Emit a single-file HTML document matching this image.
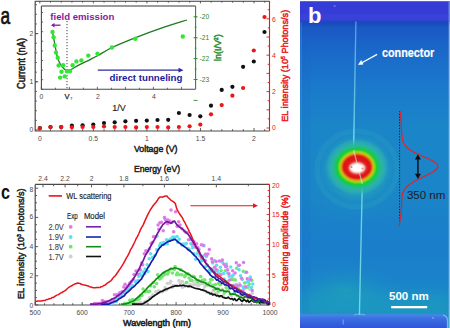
<!DOCTYPE html><html><head><meta charset="utf-8"><style>html,body{margin:0;padding:0;background:#fff;width:450px;height:328px;overflow:hidden}svg{display:block}text{font-family:"Liberation Sans",sans-serif}</style></head><body>
<svg width="450" height="328" viewBox="0 0 450 328">
<defs>
<filter id="blur1" x="-50%" y="-50%" width="200%" height="200%"><feGaussianBlur stdDeviation="1.2"/></filter>
<filter id="blur2" x="-50%" y="-50%" width="200%" height="200%"><feGaussianBlur stdDeviation="2.5"/></filter>
<filter id="blur5" x="-50%" y="-50%" width="200%" height="200%"><feGaussianBlur stdDeviation="8"/></filter>
<filter id="soft" x="-20%" y="-20%" width="140%" height="140%"><feGaussianBlur stdDeviation="0.45"/></filter>
</defs>
<rect x="0" y="0" width="450" height="328" fill="#fff"/>
<g filter="url(#soft)">
<path d="M35.2,1.2 L269.5,1.2" stroke="#3a3a3a" stroke-width="1.1" fill="none"/>
<path d="M39.80,1.2 v2.2" stroke="#3a3a3a" stroke-width="0.8"/>
<path d="M50.51,1.2 v1.5" stroke="#3a3a3a" stroke-width="0.8"/>
<path d="M61.22,1.2 v1.5" stroke="#3a3a3a" stroke-width="0.8"/>
<path d="M71.93,1.2 v1.5" stroke="#3a3a3a" stroke-width="0.8"/>
<path d="M82.64,1.2 v1.5" stroke="#3a3a3a" stroke-width="0.8"/>
<path d="M93.35,1.2 v2.2" stroke="#3a3a3a" stroke-width="0.8"/>
<path d="M104.06,1.2 v1.5" stroke="#3a3a3a" stroke-width="0.8"/>
<path d="M114.77,1.2 v1.5" stroke="#3a3a3a" stroke-width="0.8"/>
<path d="M125.48,1.2 v1.5" stroke="#3a3a3a" stroke-width="0.8"/>
<path d="M136.19,1.2 v1.5" stroke="#3a3a3a" stroke-width="0.8"/>
<path d="M146.90,1.2 v2.2" stroke="#3a3a3a" stroke-width="0.8"/>
<path d="M157.61,1.2 v1.5" stroke="#3a3a3a" stroke-width="0.8"/>
<path d="M168.32,1.2 v1.5" stroke="#3a3a3a" stroke-width="0.8"/>
<path d="M179.03,1.2 v1.5" stroke="#3a3a3a" stroke-width="0.8"/>
<path d="M189.74,1.2 v1.5" stroke="#3a3a3a" stroke-width="0.8"/>
<path d="M200.45,1.2 v2.2" stroke="#3a3a3a" stroke-width="0.8"/>
<path d="M211.16,1.2 v1.5" stroke="#3a3a3a" stroke-width="0.8"/>
<path d="M221.87,1.2 v1.5" stroke="#3a3a3a" stroke-width="0.8"/>
<path d="M232.58,1.2 v1.5" stroke="#3a3a3a" stroke-width="0.8"/>
<path d="M243.29,1.2 v1.5" stroke="#3a3a3a" stroke-width="0.8"/>
<path d="M254.00,1.2 v2.2" stroke="#3a3a3a" stroke-width="0.8"/>
<path d="M264.71,1.2 v1.5" stroke="#3a3a3a" stroke-width="0.8"/>
<path d="M35.2,1 L35.2,131 L269.5,131" stroke="#4a4a4a" stroke-width="1.2" fill="none"/>
<path d="M269.5,1 L269.5,131" stroke="#e8141b" stroke-width="1.1" fill="none"/>
<path d="M35.2,130.00 h3" stroke="#4a4a4a" stroke-width="1"/>
<path d="M35.2,81.80 h3" stroke="#4a4a4a" stroke-width="1"/>
<path d="M35.2,33.60 h3" stroke="#4a4a4a" stroke-width="1"/>
<path d="M35.2,120.36 h1.8" stroke="#4a4a4a" stroke-width="0.8"/>
<path d="M35.2,110.72 h1.8" stroke="#4a4a4a" stroke-width="0.8"/>
<path d="M35.2,101.08 h1.8" stroke="#4a4a4a" stroke-width="0.8"/>
<path d="M35.2,91.44 h1.8" stroke="#4a4a4a" stroke-width="0.8"/>
<path d="M35.2,81.80 h1.8" stroke="#4a4a4a" stroke-width="0.8"/>
<path d="M35.2,72.16 h1.8" stroke="#4a4a4a" stroke-width="0.8"/>
<path d="M35.2,62.52 h1.8" stroke="#4a4a4a" stroke-width="0.8"/>
<path d="M35.2,52.88 h1.8" stroke="#4a4a4a" stroke-width="0.8"/>
<path d="M35.2,43.24 h1.8" stroke="#4a4a4a" stroke-width="0.8"/>
<path d="M35.2,33.60 h1.8" stroke="#4a4a4a" stroke-width="0.8"/>
<path d="M35.2,23.96 h1.8" stroke="#4a4a4a" stroke-width="0.8"/>
<path d="M35.2,14.32 h1.8" stroke="#4a4a4a" stroke-width="0.8"/>
<path d="M35.2,4.68 h1.8" stroke="#4a4a4a" stroke-width="0.8"/>
<path d="M39.80,131 v-3.0" stroke="#4a4a4a" stroke-width="0.9"/>
<path d="M50.51,131 v-1.8" stroke="#4a4a4a" stroke-width="0.9"/>
<path d="M61.22,131 v-1.8" stroke="#4a4a4a" stroke-width="0.9"/>
<path d="M71.93,131 v-1.8" stroke="#4a4a4a" stroke-width="0.9"/>
<path d="M82.64,131 v-1.8" stroke="#4a4a4a" stroke-width="0.9"/>
<path d="M93.35,131 v-3.0" stroke="#4a4a4a" stroke-width="0.9"/>
<path d="M104.06,131 v-1.8" stroke="#4a4a4a" stroke-width="0.9"/>
<path d="M114.77,131 v-1.8" stroke="#4a4a4a" stroke-width="0.9"/>
<path d="M125.48,131 v-1.8" stroke="#4a4a4a" stroke-width="0.9"/>
<path d="M136.19,131 v-1.8" stroke="#4a4a4a" stroke-width="0.9"/>
<path d="M146.90,131 v-3.0" stroke="#4a4a4a" stroke-width="0.9"/>
<path d="M157.61,131 v-1.8" stroke="#4a4a4a" stroke-width="0.9"/>
<path d="M168.32,131 v-1.8" stroke="#4a4a4a" stroke-width="0.9"/>
<path d="M179.03,131 v-1.8" stroke="#4a4a4a" stroke-width="0.9"/>
<path d="M189.74,131 v-1.8" stroke="#4a4a4a" stroke-width="0.9"/>
<path d="M200.45,131 v-3.0" stroke="#4a4a4a" stroke-width="0.9"/>
<path d="M211.16,131 v-1.8" stroke="#4a4a4a" stroke-width="0.9"/>
<path d="M221.87,131 v-1.8" stroke="#4a4a4a" stroke-width="0.9"/>
<path d="M232.58,131 v-1.8" stroke="#4a4a4a" stroke-width="0.9"/>
<path d="M243.29,131 v-1.8" stroke="#4a4a4a" stroke-width="0.9"/>
<path d="M254.00,131 v-3.0" stroke="#4a4a4a" stroke-width="0.9"/>
<path d="M264.71,131 v-1.8" stroke="#4a4a4a" stroke-width="0.9"/>
<path d="M269.5,128.00 h-3.0" stroke="#e8141b" stroke-width="0.9"/>
<path d="M269.5,118.90 h-1.8" stroke="#e8141b" stroke-width="0.9"/>
<path d="M269.5,109.80 h-3.0" stroke="#e8141b" stroke-width="0.9"/>
<path d="M269.5,100.70 h-1.8" stroke="#e8141b" stroke-width="0.9"/>
<path d="M269.5,91.60 h-3.0" stroke="#e8141b" stroke-width="0.9"/>
<path d="M269.5,82.50 h-1.8" stroke="#e8141b" stroke-width="0.9"/>
<path d="M269.5,73.40 h-3.0" stroke="#e8141b" stroke-width="0.9"/>
<path d="M269.5,64.30 h-1.8" stroke="#e8141b" stroke-width="0.9"/>
<path d="M269.5,55.20 h-3.0" stroke="#e8141b" stroke-width="0.9"/>
<path d="M269.5,46.10 h-1.8" stroke="#e8141b" stroke-width="0.9"/>
<path d="M269.5,37.00 h-3.0" stroke="#e8141b" stroke-width="0.9"/>
<path d="M269.5,27.90 h-1.8" stroke="#e8141b" stroke-width="0.9"/>
<path d="M269.5,18.80 h-3.0" stroke="#e8141b" stroke-width="0.9"/>
<path d="M269.5,9.70 h-1.8" stroke="#e8141b" stroke-width="0.9"/>
</g>
<text x="33.20" y="132.05" font-size="6.80" fill="#4a4a4a" text-anchor="end" font-weight="normal" >0</text>
<text x="33.20" y="83.95" font-size="6.80" fill="#4a4a4a" text-anchor="end" font-weight="normal" >1</text>
<text x="33.20" y="36.25" font-size="6.80" fill="#4a4a4a" text-anchor="end" font-weight="normal" >2</text>
<text x="39.80" y="141.00" font-size="6.80" fill="#4a4a4a" text-anchor="middle" font-weight="normal" >0</text>
<text x="93.35" y="141.00" font-size="6.80" fill="#4a4a4a" text-anchor="middle" font-weight="normal" >0.5</text>
<text x="146.90" y="141.00" font-size="6.80" fill="#4a4a4a" text-anchor="middle" font-weight="normal" >1</text>
<text x="200.45" y="141.00" font-size="6.80" fill="#4a4a4a" text-anchor="middle" font-weight="normal" >1.5</text>
<text x="254.00" y="141.00" font-size="6.80" fill="#4a4a4a" text-anchor="middle" font-weight="normal" >2</text>
<text x="155.70" y="151.80" font-size="9.80" fill="#222" text-anchor="middle" font-weight="normal" textLength="43.5" lengthAdjust="spacingAndGlyphs" stroke="#222" stroke-width="0.55" >Voltage (V)</text>
<text x="0" y="0" transform="translate(21.30,63.50) rotate(-90)" font-size="10.20" fill="#222" text-anchor="middle" font-weight="normal" dy="0.35em" textLength="51.0" lengthAdjust="spacingAndGlyphs" stroke="#222" stroke-width="0.55">Current (nA)</text>
<text x="271.90" y="130.35" font-size="6.80" fill="#e8141b" text-anchor="start" font-weight="normal" >0</text>
<text x="271.90" y="94.15" font-size="6.80" fill="#e8141b" text-anchor="start" font-weight="normal" >2</text>
<text x="271.90" y="57.85" font-size="6.80" fill="#e8141b" text-anchor="start" font-weight="normal" >4</text>
<text x="271.90" y="21.65" font-size="6.80" fill="#e8141b" text-anchor="start" font-weight="normal" >6</text>
<text x="0" y="0" transform="translate(284.20,65.80) rotate(-90)" font-size="9.80" fill="#e8141b" text-anchor="middle" font-weight="normal" dy="0.35em" textLength="112.0" lengthAdjust="spacingAndGlyphs" stroke="#e8141b" stroke-width="0.45">EL intensity (10<tspan dy="-3" font-size="5.5">5</tspan><tspan dy="3"> Photons/s)</tspan></text>
<text x="0.60" y="23.80" font-size="23.50" fill="#111" text-anchor="start" font-weight="normal" textLength="9.6" lengthAdjust="spacingAndGlyphs" stroke="#111" stroke-width="0.70" >a</text>
<circle cx="39.80" cy="128.00" r="2.1" fill="#111"/>
<circle cx="50.50" cy="127.00" r="2.1" fill="#111"/>
<circle cx="61.20" cy="127.00" r="2.1" fill="#111"/>
<circle cx="71.90" cy="125.70" r="2.1" fill="#111"/>
<circle cx="82.60" cy="125.30" r="2.1" fill="#111"/>
<circle cx="93.30" cy="124.50" r="2.1" fill="#111"/>
<circle cx="104.00" cy="123.00" r="2.1" fill="#111"/>
<circle cx="114.70" cy="122.30" r="2.1" fill="#111"/>
<circle cx="125.40" cy="121.30" r="2.1" fill="#111"/>
<circle cx="136.10" cy="120.80" r="2.1" fill="#111"/>
<circle cx="146.80" cy="120.60" r="2.1" fill="#111"/>
<circle cx="157.50" cy="120.00" r="2.1" fill="#111"/>
<circle cx="168.20" cy="119.80" r="2.1" fill="#111"/>
<circle cx="178.90" cy="113.00" r="2.1" fill="#111"/>
<circle cx="189.60" cy="115.00" r="2.1" fill="#111"/>
<circle cx="200.30" cy="116.30" r="2.1" fill="#111"/>
<circle cx="211.00" cy="105.70" r="2.1" fill="#111"/>
<circle cx="221.70" cy="89.90" r="2.1" fill="#111"/>
<circle cx="232.40" cy="86.80" r="2.1" fill="#111"/>
<circle cx="243.10" cy="66.80" r="2.1" fill="#111"/>
<circle cx="253.80" cy="61.50" r="2.1" fill="#111"/>
<circle cx="264.50" cy="32.00" r="2.1" fill="#111"/>
<circle cx="39.80" cy="128.40" r="2.1" fill="#ee1515"/>
<circle cx="50.50" cy="127.00" r="2.1" fill="#ee1515"/>
<circle cx="61.20" cy="127.00" r="2.1" fill="#ee1515"/>
<circle cx="71.90" cy="127.30" r="2.1" fill="#ee1515"/>
<circle cx="82.60" cy="127.00" r="2.1" fill="#ee1515"/>
<circle cx="93.30" cy="127.00" r="2.1" fill="#ee1515"/>
<circle cx="104.00" cy="126.50" r="2.1" fill="#ee1515"/>
<circle cx="114.70" cy="127.00" r="2.1" fill="#ee1515"/>
<circle cx="125.40" cy="127.00" r="2.1" fill="#ee1515"/>
<circle cx="136.10" cy="127.40" r="2.1" fill="#ee1515"/>
<circle cx="146.80" cy="127.00" r="2.1" fill="#ee1515"/>
<circle cx="157.50" cy="127.00" r="2.1" fill="#ee1515"/>
<circle cx="168.20" cy="127.40" r="2.1" fill="#ee1515"/>
<circle cx="178.90" cy="127.00" r="2.1" fill="#ee1515"/>
<circle cx="189.60" cy="126.30" r="2.1" fill="#ee1515"/>
<circle cx="200.30" cy="124.60" r="2.1" fill="#ee1515"/>
<circle cx="211.00" cy="114.30" r="2.1" fill="#ee1515"/>
<circle cx="221.70" cy="105.10" r="2.1" fill="#ee1515"/>
<circle cx="232.40" cy="95.70" r="2.1" fill="#ee1515"/>
<circle cx="243.10" cy="88.00" r="2.1" fill="#ee1515"/>
<circle cx="253.80" cy="50.50" r="2.1" fill="#ee1515"/>
<circle cx="264.50" cy="17.00" r="2.1" fill="#ee1515"/>
<rect x="41.4" y="6" width="154.2" height="83.3" fill="#fff"/>
<g filter="url(#soft)">
<path d="M41.4,6 L195.6,6" stroke="#3a3a3a" stroke-width="1.1" fill="none"/>
<path d="M41.4,6 L41.4,89.3 L195.6,89.3" stroke="#4a4a4a" stroke-width="1.1" fill="none"/>
<path d="M195.6,6 L195.6,89.3" stroke="#2a8a2a" stroke-width="1.1" fill="none"/>
<path d="M41.40,89.3 v-2.5" stroke="#4a4a4a" stroke-width="0.8"/>
<path d="M55.40,89.3 v-1.6" stroke="#4a4a4a" stroke-width="0.8"/>
<path d="M69.40,89.3 v-2.5" stroke="#4a4a4a" stroke-width="0.8"/>
<path d="M83.40,89.3 v-1.6" stroke="#4a4a4a" stroke-width="0.8"/>
<path d="M97.40,89.3 v-2.5" stroke="#4a4a4a" stroke-width="0.8"/>
<path d="M111.40,89.3 v-1.6" stroke="#4a4a4a" stroke-width="0.8"/>
<path d="M125.40,89.3 v-2.5" stroke="#4a4a4a" stroke-width="0.8"/>
<path d="M139.40,89.3 v-1.6" stroke="#4a4a4a" stroke-width="0.8"/>
<path d="M153.40,89.3 v-2.5" stroke="#4a4a4a" stroke-width="0.8"/>
<path d="M167.40,89.3 v-1.6" stroke="#4a4a4a" stroke-width="0.8"/>
<path d="M181.40,89.3 v-2.5" stroke="#4a4a4a" stroke-width="0.8"/>
<path d="M41.4,89.30 h1.8" stroke="#4a4a4a" stroke-width="0.8"/>
<path d="M41.4,79.70 h1.8" stroke="#4a4a4a" stroke-width="0.8"/>
<path d="M41.4,70.10 h1.8" stroke="#4a4a4a" stroke-width="0.8"/>
<path d="M41.4,60.50 h1.8" stroke="#4a4a4a" stroke-width="0.8"/>
<path d="M41.4,50.90 h1.8" stroke="#4a4a4a" stroke-width="0.8"/>
<path d="M41.4,41.30 h1.8" stroke="#4a4a4a" stroke-width="0.8"/>
<path d="M41.4,31.70 h1.8" stroke="#4a4a4a" stroke-width="0.8"/>
<path d="M41.4,22.10 h1.8" stroke="#4a4a4a" stroke-width="0.8"/>
<path d="M41.4,12.50 h1.8" stroke="#4a4a4a" stroke-width="0.8"/>
<path d="M193.6,16.80 h4" stroke="#2a8a2a" stroke-width="0.9"/>
<path d="M193.6,37.70 h4" stroke="#2a8a2a" stroke-width="0.9"/>
<path d="M193.6,58.60 h4" stroke="#2a8a2a" stroke-width="0.9"/>
<path d="M193.6,79.50 h4" stroke="#2a8a2a" stroke-width="0.9"/>
<path d="M193.6,100.40 h4" stroke="#2a8a2a" stroke-width="0.9"/>
<path d="M194.6,16.80 h2" stroke="#2a8a2a" stroke-width="0.7"/>
<path d="M194.6,27.25 h2" stroke="#2a8a2a" stroke-width="0.7"/>
<path d="M194.6,37.70 h2" stroke="#2a8a2a" stroke-width="0.7"/>
<path d="M194.6,48.15 h2" stroke="#2a8a2a" stroke-width="0.7"/>
<path d="M194.6,58.60 h2" stroke="#2a8a2a" stroke-width="0.7"/>
<path d="M194.6,69.05 h2" stroke="#2a8a2a" stroke-width="0.7"/>
<path d="M194.6,79.50 h2" stroke="#2a8a2a" stroke-width="0.7"/>
<path d="M67,21 L67,89" stroke="#444" stroke-width="1" stroke-dasharray="1.2,1.8" fill="none"/>
</g>
<text x="41.40" y="99.00" font-size="6.80" fill="#4a4a4a" text-anchor="middle" font-weight="normal" >0</text>
<text x="97.80" y="99.00" font-size="6.80" fill="#4a4a4a" text-anchor="middle" font-weight="normal" >2</text>
<text x="154.00" y="99.00" font-size="6.80" fill="#4a4a4a" text-anchor="middle" font-weight="normal" >4</text>
<text x="67.00" y="98.80" font-size="7.50" fill="#222" text-anchor="middle" font-weight="normal" stroke="#222" stroke-width="0.25" >V</text>
<text x="71.60" y="100.00" font-size="4.00" fill="#222" text-anchor="middle" font-weight="normal" >T</text>
<text x="112.20" y="111.20" font-size="8.20" fill="#222" text-anchor="start" font-weight="normal" textLength="13.4" lengthAdjust="spacingAndGlyphs" stroke="#222" stroke-width="0.15" >1/V</text>
<text x="199.60" y="18.95" font-size="6.80" fill="#2a8a2a" text-anchor="start" font-weight="normal" textLength="9.6" lengthAdjust="spacingAndGlyphs" >-20</text>
<text x="199.60" y="40.35" font-size="6.80" fill="#2a8a2a" text-anchor="start" font-weight="normal" textLength="9.6" lengthAdjust="spacingAndGlyphs" >-21</text>
<text x="199.60" y="61.05" font-size="6.80" fill="#2a8a2a" text-anchor="start" font-weight="normal" textLength="9.6" lengthAdjust="spacingAndGlyphs" >-22</text>
<text x="199.60" y="82.15" font-size="6.80" fill="#2a8a2a" text-anchor="start" font-weight="normal" textLength="9.6" lengthAdjust="spacingAndGlyphs" >-23</text>
<text x="0" y="0" transform="translate(217.50,47.60) rotate(-90)" font-size="9.40" fill="#2a8a2a" text-anchor="middle" font-weight="normal" dy="0.35em" textLength="26.7" lengthAdjust="spacingAndGlyphs" stroke="#2a8a2a" stroke-width="0.50">ln(I/V<tspan dy="-3" font-size="5.5">2</tspan><tspan dy="3">)</tspan></text>
<text x="50.30" y="19.80" font-size="9.70" fill="#8a1a9a" text-anchor="start" font-weight="bold" textLength="64.0" lengthAdjust="spacingAndGlyphs" >field emission</text>
<path d="M60.5,25.2 L52.5,25.2" stroke="#8a1a9a" stroke-width="1.3" fill="none"/><path d="M51,25.2 L54.5,23 L54.5,27.4 Z" fill="#8a1a9a"/>
<path d="M97.8,70.2 L180,70.2" stroke="#2a2aaa" stroke-width="1.2" fill="none"/><path d="M183.5,70.2 L178.5,67.8 L178.5,72.6 Z" fill="#2a2aaa"/>
<text x="109.60" y="81.20" font-size="9.70" fill="#1a1aa0" text-anchor="start" font-weight="bold" textLength="72.8" lengthAdjust="spacingAndGlyphs" >direct tunneling</text>
<path d="M52.50,31.50 C52.75,32.92 53.43,36.92 54.00,40.00 C54.57,43.08 55.33,47.12 55.90,50.00 C56.47,52.88 56.65,54.92 57.40,57.30 C58.15,59.68 59.27,62.37 60.40,64.30 C61.53,66.23 63.05,67.92 64.20,68.90 C65.35,69.88 66.15,70.10 67.30,70.20 C68.45,70.30 69.20,70.33 71.10,69.50 C73.00,68.67 75.53,66.85 78.70,65.20 C81.87,63.55 86.88,61.22 90.10,59.60 C93.32,57.98 94.35,57.52 98.00,55.50 C101.65,53.48 105.83,50.45 112.00,47.50 C118.17,44.55 126.67,41.08 135.00,37.80 C143.33,34.52 153.33,30.77 162.00,27.80 C170.67,24.83 182.83,21.30 187.00,20.00" stroke="#1e7a1e" stroke-width="1.3" fill="none"/>
<circle cx="52.50" cy="32.00" r="2.2" fill="#33e633"/>
<circle cx="53.60" cy="37.20" r="2.2" fill="#33e633"/>
<circle cx="54.80" cy="45.50" r="2.2" fill="#33e633"/>
<circle cx="56.00" cy="52.60" r="2.2" fill="#33e633"/>
<circle cx="57.70" cy="57.80" r="2.2" fill="#33e633"/>
<circle cx="58.60" cy="65.50" r="2.2" fill="#33e633"/>
<circle cx="63.20" cy="65.20" r="2.2" fill="#33e633"/>
<circle cx="61.50" cy="71.80" r="2.2" fill="#33e633"/>
<circle cx="60.10" cy="77.60" r="2.2" fill="#33e633"/>
<circle cx="64.70" cy="76.40" r="2.2" fill="#33e633"/>
<circle cx="67.00" cy="71.30" r="2.2" fill="#33e633"/>
<circle cx="69.90" cy="71.30" r="2.2" fill="#33e633"/>
<circle cx="72.60" cy="65.20" r="2.2" fill="#33e633"/>
<circle cx="76.40" cy="61.40" r="2.2" fill="#33e633"/>
<circle cx="81.40" cy="60.40" r="2.2" fill="#33e633"/>
<circle cx="88.30" cy="55.60" r="2.2" fill="#33e633"/>
<circle cx="97.50" cy="53.80" r="2.2" fill="#33e633"/>
<circle cx="112.00" cy="47.50" r="2.2" fill="#33e633"/>
<circle cx="135.30" cy="38.80" r="2.2" fill="#33e633"/>
<circle cx="182.80" cy="36.50" r="2.2" fill="#33e633"/>
<defs>
<clipPath id="clipB"><rect x="300" y="1" width="149.5" height="327"/></clipPath>
<linearGradient id="bgB" x1="0" y1="0" x2="0" y2="1"><stop offset="0" stop-color="#1a3ab8"/><stop offset="0.035" stop-color="#1a48bc"/><stop offset="0.08" stop-color="#1a58c4"/><stop offset="0.16" stop-color="#1a6ac9"/><stop offset="0.28" stop-color="#1a7ccb"/><stop offset="0.4" stop-color="#1a86c8"/><stop offset="0.6" stop-color="#1a84c8"/><stop offset="0.75" stop-color="#1a7ecb"/><stop offset="0.88" stop-color="#1a84ca"/><stop offset="1" stop-color="#1c98c0"/></linearGradient>
<radialGradient id="halo" cx="0.5" cy="0.5" r="0.5"><stop offset="0" stop-color="#30c0a8" stop-opacity="1"/><stop offset="0.6" stop-color="#28b4b4" stop-opacity="0.75"/><stop offset="0.85" stop-color="#22a8bc" stop-opacity="0.35"/><stop offset="1" stop-color="#1b8ac6" stop-opacity="0"/></radialGradient>
<radialGradient id="glowBot" cx="0.5" cy="0.5" r="0.5"><stop offset="0" stop-color="#20b0b0" stop-opacity="0.9"/><stop offset="1" stop-color="#1b8ac6" stop-opacity="0"/></radialGradient>
<filter id="blurR" x="-50%" y="-50%" width="200%" height="200%"><feGaussianBlur stdDeviation="0.9"/></filter>
</defs>
<g clip-path="url(#clipB)">
<rect x="300" y="1" width="150" height="327" fill="url(#bgB)"/>
<rect x="296" y="22" width="10" height="293" fill="#1a60c8" opacity="0.3" filter="url(#blur5)"/>
<ellipse cx="345" cy="290" rx="60" ry="28" fill="url(#glowBot)" opacity="0.55"/>
<ellipse cx="357" cy="180" rx="62" ry="50" fill="url(#glowBot)" opacity="0.45"/>
<radialGradient id="halo2" cx="0.5" cy="0.5" r="0.5"><stop offset="0" stop-color="#34bcb0" stop-opacity="0.9"/><stop offset="0.55" stop-color="#30b4b4" stop-opacity="0.6"/><stop offset="0.8" stop-color="#2aa8bc" stop-opacity="0.35"/><stop offset="1" stop-color="#2090c4" stop-opacity="0"/></radialGradient>
<ellipse cx="357" cy="168" rx="40" ry="38" fill="url(#halo2)" opacity="0.8" filter="url(#blur4)"/>
<ellipse cx="357" cy="169" rx="40" ry="38" fill="none" stroke="#3cbcc0" stroke-width="5" opacity="0.15" filter="url(#blur4)"/>
<rect x="300" y="1" width="150" height="21" fill="#363cd6"/>
<rect x="300" y="14" width="150" height="7" fill="#3a48da" opacity="0.5" filter="url(#blur1)"/>
<rect x="300" y="21.5" width="150" height="3" fill="#1a40b8" opacity="0.6" filter="url(#blur1)"/>
<rect x="300" y="292" width="150" height="22" fill="#20a8bc" opacity="0.4" filter="url(#blur5)"/>
<linearGradient id="strip" x1="0" y1="0" x2="0" y2="1"><stop offset="0" stop-color="#4a86ea"/><stop offset="0.25" stop-color="#3c70e2"/><stop offset="1" stop-color="#2c4ed6"/></linearGradient>
<rect x="296" y="314.3" width="151" height="16" rx="4" fill="url(#strip)"/>
<path d="M300,315.0 L443,315.0" stroke="#7ab8f4" stroke-width="1.3" opacity="0.85" filter="url(#soft)"/>
<path d="M443,315.2 Q447.5,316 447.5,321 L447.5,328" stroke="#8ac0f4" stroke-width="1.3" fill="none" opacity="0.8" filter="url(#soft)"/>
<path d="M354,315 Q359.5,313 365,315" stroke="#7ac8f0" stroke-width="1.2" fill="none" opacity="0.7"/>
<linearGradient id="wireG" x1="0" y1="21" x2="0" y2="150" gradientUnits="userSpaceOnUse"><stop offset="0" stop-color="#58a4e2"/><stop offset="0.3" stop-color="#66bce8"/><stop offset="0.7" stop-color="#70ccea"/><stop offset="1" stop-color="#90f0f0"/></linearGradient>
<path d="M355.9,21.5 L353.6,150" stroke="url(#wireG)" stroke-width="1.35" opacity="0.9" filter="url(#soft)"/>
<path d="M362.3,184 L359.4,315" stroke="#80e0ec" stroke-width="1.35" opacity="0.85" filter="url(#soft)"/>
<g filter="url(#blurR)">
<ellipse cx="357" cy="167" rx="30" ry="27" fill="#2cb4b0" opacity="0.6"/>
<ellipse cx="357" cy="167" rx="26.5" ry="23.5" fill="#2ab8a0" opacity="0.8"/>
<ellipse cx="357" cy="167" rx="23.5" ry="20.8" fill="#20c070" opacity="0.95"/>
<ellipse cx="357" cy="167" rx="21.5" ry="19" fill="#16cc3a"/>
<ellipse cx="357" cy="167" rx="19.5" ry="17" fill="#14d424"/>
<ellipse cx="357" cy="167" rx="17.6" ry="15.2" fill="#b8e018"/>
<ellipse cx="357" cy="167" rx="16.8" ry="14.4" fill="#f0e010"/>
<ellipse cx="357" cy="167" rx="15.8" ry="13.5" fill="#e01812"/>
</g>
<path d="M353.6,150 L362.3,184" stroke="#c0f8ff" stroke-width="1.2" opacity="0.6" fill="none" filter="url(#soft)"/>
<g filter="url(#blurR)">
<ellipse cx="357.2" cy="168" rx="8.6" ry="6.0" fill="#f4a0a0"/>
<ellipse cx="357.2" cy="168" rx="7.4" ry="4.8" fill="#ffffff"/>
</g>
<circle cx="351.5" cy="167" r="1" fill="#e84040" opacity="0.7"/><circle cx="362.5" cy="168.5" r="1.1" fill="#e84040" opacity="0.6"/>
<circle cx="334.7" cy="6" r="1.1" fill="#7a80f0" opacity="0.8"/>
<rect x="342.6" y="319.5" width="1.4" height="5" fill="#7aa8f8" opacity="0.7"/>
<circle cx="433" cy="318" r="1" fill="#90c0ff" opacity="0.6"/>
<rect x="448.6" y="1" width="1.4" height="327" fill="#8ab8ee" opacity="0.75"/>
<rect x="300.5" y="22" width="1.3" height="293" fill="#4a98dc" opacity="0.45"/>
<rect x="300" y="1" width="150" height="1" fill="#6a70e8" opacity="0.7"/>
</g>
<text x="308.00" y="22.80" font-size="22.00" fill="#ffffff" text-anchor="start" font-weight="bold" >b</text>
<text x="382.00" y="56.80" font-size="13.60" fill="#ffffff" text-anchor="start" font-weight="bold" textLength="52.3" lengthAdjust="spacingAndGlyphs" stroke="#ffffff" stroke-width="0.20" >connector</text>
<path d="M377.1,54.4 L361,63.3" stroke="#fff" stroke-width="1.2" fill="none"/><path d="M358.5,64.6 L361.2,60.6 L363.0,64.2 Z" fill="#fff" stroke="#fff" stroke-width="0.6"/>
<path d="M399.6,111 L399.6,226" stroke="#111" stroke-width="0.9" stroke-dasharray="1.2,1.6" fill="none"/>
<path d="M400.10,111.00 L400.20,112.00 L400.30,113.00 L400.40,114.00 L400.50,115.00 L400.60,116.00 L400.70,117.00 L400.80,118.00 L400.90,119.00 L401.00,120.00 L401.05,121.00 L401.11,122.00 L401.16,123.00 L401.21,124.00 L401.27,125.00 L401.32,126.00 L401.38,127.00 L401.44,128.00 L401.49,129.00 L401.56,130.00 L401.62,131.00 L401.69,132.00 L401.76,133.00 L401.85,134.00 L401.95,135.00 L402.02,136.00 L402.12,137.00 L402.24,138.00 L402.41,139.00 L402.61,140.00 L402.88,141.00 L403.21,142.00 L403.63,143.00 L404.15,144.00 L404.79,145.00 L405.55,146.00 L406.47,147.00 L407.54,148.00 L408.79,149.00 L410.22,150.00 L411.80,151.00 L413.55,152.00 L415.47,153.00 L417.54,154.00 L419.72,155.00 L422.00,156.00 L424.31,157.00 L426.61,158.00 L428.85,159.00 L430.95,160.00 L432.87,161.00 L434.55,162.00 L435.93,163.00 L436.97,164.00 L437.63,165.00 L437.89,166.00 L437.78,167.00 L437.35,168.00 L436.61,169.00 L435.57,170.00 L434.28,171.00 L432.75,172.00 L431.03,173.00 L429.16,174.00 L427.17,175.00 L425.11,176.00 L423.02,177.00 L420.93,178.00 L418.89,179.00 L416.92,180.00 L415.05,181.00 L413.29,182.00 L411.65,183.00 L410.16,184.00 L408.81,185.00 L407.61,186.00 L406.54,187.00 L405.61,188.00 L404.81,189.00 L404.12,190.00 L403.58,191.00 L403.13,192.00 L402.77,193.00 L402.47,194.00 L402.24,195.00 L402.06,196.00 L401.92,197.00 L401.82,198.00 L401.74,199.00 L401.69,200.00 L401.66,201.00 L401.64,202.00 L401.63,203.00 L401.64,204.00 L401.64,205.00 L401.56,206.00 L401.48,207.00 L401.41,208.00 L401.33,209.00 L401.26,210.00 L401.18,211.00 L401.11,212.00 L401.04,213.00 L400.97,214.00 L400.90,215.00 L400.73,216.00 L400.55,217.00 L400.38,218.00 L400.21,219.00 L400.04,220.00 L399.86,221.00 L399.69,222.00 L399.52,223.00 L399.35,224.00 L399.17,225.00 L399.00,226.00" stroke="#e8202a" stroke-width="1.2" fill="none"/>
<path d="M417.9,158 L417.9,175.5" stroke="#111" stroke-width="1.5"/><path d="M417.9,154.2 L414.9,159.5 L420.9,159.5 Z" fill="#111"/><path d="M417.9,179 L414.9,173.7 L420.9,173.7 Z" fill="#111"/>
<text x="406.90" y="198.70" font-size="11.50" fill="#1a1a2a" text-anchor="start" font-weight="normal" textLength="38.4" lengthAdjust="spacingAndGlyphs" >350 nm</text>
<text x="389.00" y="300.30" font-size="11.50" fill="#ffffff" text-anchor="start" font-weight="bold" textLength="39.8" lengthAdjust="spacingAndGlyphs" >500 nm</text>
<rect x="391.2" y="306" width="36" height="2.3" fill="#fff"/>
<g filter="url(#soft)">
<path d="M35.2,184.4 L269.5,184.4" stroke="#4a4a4a" stroke-width="1.2" fill="none"/>
<path d="M35.2,184.4 L35.2,305 L269.5,305" stroke="#4a4a4a" stroke-width="1.2" fill="none"/>
<path d="M269.5,184.4 L269.5,305" stroke="#e8141b" stroke-width="1.1" fill="none"/>
<path d="M35.20,305 v-3.0" stroke="#4a4a4a" stroke-width="0.9"/>
<path d="M44.59,305 v-1.8" stroke="#4a4a4a" stroke-width="0.9"/>
<path d="M53.98,305 v-1.8" stroke="#4a4a4a" stroke-width="0.9"/>
<path d="M63.38,305 v-1.8" stroke="#4a4a4a" stroke-width="0.9"/>
<path d="M72.77,305 v-1.8" stroke="#4a4a4a" stroke-width="0.9"/>
<path d="M82.16,305 v-3.0" stroke="#4a4a4a" stroke-width="0.9"/>
<path d="M91.55,305 v-1.8" stroke="#4a4a4a" stroke-width="0.9"/>
<path d="M100.94,305 v-1.8" stroke="#4a4a4a" stroke-width="0.9"/>
<path d="M110.34,305 v-1.8" stroke="#4a4a4a" stroke-width="0.9"/>
<path d="M119.73,305 v-1.8" stroke="#4a4a4a" stroke-width="0.9"/>
<path d="M129.12,305 v-3.0" stroke="#4a4a4a" stroke-width="0.9"/>
<path d="M138.51,305 v-1.8" stroke="#4a4a4a" stroke-width="0.9"/>
<path d="M147.90,305 v-1.8" stroke="#4a4a4a" stroke-width="0.9"/>
<path d="M157.30,305 v-1.8" stroke="#4a4a4a" stroke-width="0.9"/>
<path d="M166.69,305 v-1.8" stroke="#4a4a4a" stroke-width="0.9"/>
<path d="M176.08,305 v-3.0" stroke="#4a4a4a" stroke-width="0.9"/>
<path d="M185.47,305 v-1.8" stroke="#4a4a4a" stroke-width="0.9"/>
<path d="M194.86,305 v-1.8" stroke="#4a4a4a" stroke-width="0.9"/>
<path d="M204.26,305 v-1.8" stroke="#4a4a4a" stroke-width="0.9"/>
<path d="M213.65,305 v-1.8" stroke="#4a4a4a" stroke-width="0.9"/>
<path d="M223.04,305 v-3.0" stroke="#4a4a4a" stroke-width="0.9"/>
<path d="M232.43,305 v-1.8" stroke="#4a4a4a" stroke-width="0.9"/>
<path d="M241.82,305 v-1.8" stroke="#4a4a4a" stroke-width="0.9"/>
<path d="M251.22,305 v-1.8" stroke="#4a4a4a" stroke-width="0.9"/>
<path d="M260.61,305 v-1.8" stroke="#4a4a4a" stroke-width="0.9"/>
<path d="M270.00,305 v-3.0" stroke="#4a4a4a" stroke-width="0.9"/>
<path d="M35.2,305.00 h3.0" stroke="#4a4a4a" stroke-width="0.9"/>
<path d="M35.2,297.70 h1.8" stroke="#4a4a4a" stroke-width="0.9"/>
<path d="M35.2,290.40 h1.8" stroke="#4a4a4a" stroke-width="0.9"/>
<path d="M35.2,283.10 h1.8" stroke="#4a4a4a" stroke-width="0.9"/>
<path d="M35.2,275.80 h3.0" stroke="#4a4a4a" stroke-width="0.9"/>
<path d="M35.2,268.50 h1.8" stroke="#4a4a4a" stroke-width="0.9"/>
<path d="M35.2,261.20 h1.8" stroke="#4a4a4a" stroke-width="0.9"/>
<path d="M35.2,253.90 h1.8" stroke="#4a4a4a" stroke-width="0.9"/>
<path d="M35.2,246.60 h3.0" stroke="#4a4a4a" stroke-width="0.9"/>
<path d="M35.2,239.30 h1.8" stroke="#4a4a4a" stroke-width="0.9"/>
<path d="M35.2,232.00 h1.8" stroke="#4a4a4a" stroke-width="0.9"/>
<path d="M35.2,224.70 h1.8" stroke="#4a4a4a" stroke-width="0.9"/>
<path d="M35.2,217.40 h3.0" stroke="#4a4a4a" stroke-width="0.9"/>
<path d="M35.2,210.10 h1.8" stroke="#4a4a4a" stroke-width="0.9"/>
<path d="M35.2,202.80 h1.8" stroke="#4a4a4a" stroke-width="0.9"/>
<path d="M35.2,195.50 h1.8" stroke="#4a4a4a" stroke-width="0.9"/>
<path d="M35.2,188.20 h3.0" stroke="#4a4a4a" stroke-width="0.9"/>
<path d="M43.03,184.4 v3.0" stroke="#4a4a4a" stroke-width="0.9"/>
<path d="M53.58,184.4 v1.8" stroke="#4a4a4a" stroke-width="0.9"/>
<path d="M65.08,184.4 v3.0" stroke="#4a4a4a" stroke-width="0.9"/>
<path d="M77.69,184.4 v1.8" stroke="#4a4a4a" stroke-width="0.9"/>
<path d="M91.55,184.4 v3.0" stroke="#4a4a4a" stroke-width="0.9"/>
<path d="M106.88,184.4 v1.8" stroke="#4a4a4a" stroke-width="0.9"/>
<path d="M123.90,184.4 v3.0" stroke="#4a4a4a" stroke-width="0.9"/>
<path d="M142.93,184.4 v1.8" stroke="#4a4a4a" stroke-width="0.9"/>
<path d="M164.34,184.4 v3.0" stroke="#4a4a4a" stroke-width="0.9"/>
<path d="M188.60,184.4 v1.8" stroke="#4a4a4a" stroke-width="0.9"/>
<path d="M216.33,184.4 v3.0" stroke="#4a4a4a" stroke-width="0.9"/>
<path d="M248.33,184.4 v1.8" stroke="#4a4a4a" stroke-width="0.9"/>
<path d="M269.5,305.00 h-3.0" stroke="#e8141b" stroke-width="0.9"/>
<path d="M269.5,298.97 h-1.8" stroke="#e8141b" stroke-width="0.9"/>
<path d="M269.5,292.94 h-1.8" stroke="#e8141b" stroke-width="0.9"/>
<path d="M269.5,286.91 h-1.8" stroke="#e8141b" stroke-width="0.9"/>
<path d="M269.5,280.88 h-1.8" stroke="#e8141b" stroke-width="0.9"/>
<path d="M269.5,274.85 h-3.0" stroke="#e8141b" stroke-width="0.9"/>
<path d="M269.5,268.82 h-1.8" stroke="#e8141b" stroke-width="0.9"/>
<path d="M269.5,262.79 h-1.8" stroke="#e8141b" stroke-width="0.9"/>
<path d="M269.5,256.76 h-1.8" stroke="#e8141b" stroke-width="0.9"/>
<path d="M269.5,250.73 h-1.8" stroke="#e8141b" stroke-width="0.9"/>
<path d="M269.5,244.70 h-3.0" stroke="#e8141b" stroke-width="0.9"/>
<path d="M269.5,238.67 h-1.8" stroke="#e8141b" stroke-width="0.9"/>
<path d="M269.5,232.64 h-1.8" stroke="#e8141b" stroke-width="0.9"/>
<path d="M269.5,226.61 h-1.8" stroke="#e8141b" stroke-width="0.9"/>
<path d="M269.5,220.58 h-1.8" stroke="#e8141b" stroke-width="0.9"/>
<path d="M269.5,214.55 h-3.0" stroke="#e8141b" stroke-width="0.9"/>
<path d="M269.5,208.52 h-1.8" stroke="#e8141b" stroke-width="0.9"/>
<path d="M269.5,202.49 h-1.8" stroke="#e8141b" stroke-width="0.9"/>
<path d="M269.5,196.46 h-1.8" stroke="#e8141b" stroke-width="0.9"/>
<path d="M269.5,190.43 h-1.8" stroke="#e8141b" stroke-width="0.9"/>
<path d="M269.5,184.40 h-3.0" stroke="#e8141b" stroke-width="0.9"/>
</g>
<text x="33.20" y="308.15" font-size="6.80" fill="#4a4a4a" text-anchor="end" font-weight="normal" >0</text>
<text x="33.20" y="278.05" font-size="6.80" fill="#4a4a4a" text-anchor="end" font-weight="normal" >2</text>
<text x="33.20" y="248.95" font-size="6.80" fill="#4a4a4a" text-anchor="end" font-weight="normal" >4</text>
<text x="33.20" y="219.45" font-size="6.80" fill="#4a4a4a" text-anchor="end" font-weight="normal" >6</text>
<text x="33.20" y="191.85" font-size="6.80" fill="#4a4a4a" text-anchor="end" font-weight="normal" >8</text>
<text x="35.20" y="314.80" font-size="6.80" fill="#4a4a4a" text-anchor="middle" font-weight="normal" >500</text>
<text x="82.16" y="314.80" font-size="6.80" fill="#4a4a4a" text-anchor="middle" font-weight="normal" >600</text>
<text x="129.12" y="314.80" font-size="6.80" fill="#4a4a4a" text-anchor="middle" font-weight="normal" >700</text>
<text x="176.08" y="314.80" font-size="6.80" fill="#4a4a4a" text-anchor="middle" font-weight="normal" >800</text>
<text x="223.04" y="314.80" font-size="6.80" fill="#4a4a4a" text-anchor="middle" font-weight="normal" >900</text>
<text x="270.00" y="314.80" font-size="6.80" fill="#4a4a4a" text-anchor="middle" font-weight="normal" >1000</text>
<text x="43.03" y="181.40" font-size="6.80" fill="#4a4a4a" text-anchor="middle" font-weight="normal" >2.4</text>
<text x="65.08" y="181.40" font-size="6.80" fill="#4a4a4a" text-anchor="middle" font-weight="normal" >2.2</text>
<text x="91.55" y="181.40" font-size="6.80" fill="#4a4a4a" text-anchor="middle" font-weight="normal" >2</text>
<text x="123.90" y="181.40" font-size="6.80" fill="#4a4a4a" text-anchor="middle" font-weight="normal" >1.8</text>
<text x="164.34" y="181.40" font-size="6.80" fill="#4a4a4a" text-anchor="middle" font-weight="normal" >1.6</text>
<text x="216.33" y="181.40" font-size="6.80" fill="#4a4a4a" text-anchor="middle" font-weight="normal" >1.4</text>
<text x="157.00" y="172.20" font-size="9.60" fill="#222" text-anchor="middle" font-weight="normal" textLength="46.0" lengthAdjust="spacingAndGlyphs" stroke="#222" stroke-width="0.50" >Energy (eV)</text>
<text x="157.00" y="325.60" font-size="9.80" fill="#222" text-anchor="middle" font-weight="normal" textLength="68.0" lengthAdjust="spacingAndGlyphs" stroke="#222" stroke-width="0.60" >Wavelength (nm)</text>
<text x="0" y="0" transform="translate(21.00,243.70) rotate(-90)" font-size="9.90" fill="#222" text-anchor="middle" font-weight="normal" dy="0.35em" textLength="110.6" lengthAdjust="spacingAndGlyphs" stroke="#222" stroke-width="0.50">EL intensity (10<tspan dy="-3" font-size="5.5">3</tspan><tspan dy="3"> Photons/s)</tspan></text>
<text x="271.90" y="307.45" font-size="6.80" fill="#e8141b" text-anchor="start" font-weight="normal" >0</text>
<text x="271.90" y="277.65" font-size="6.80" fill="#e8141b" text-anchor="start" font-weight="normal" >5</text>
<text x="271.90" y="247.25" font-size="6.80" fill="#e8141b" text-anchor="start" font-weight="normal" >10</text>
<text x="271.90" y="217.45" font-size="6.80" fill="#e8141b" text-anchor="start" font-weight="normal" >15</text>
<text x="271.90" y="187.75" font-size="6.80" fill="#e8141b" text-anchor="start" font-weight="normal" >20</text>
<text x="0" y="0" transform="translate(284.80,243.00) rotate(-90)" font-size="9.90" fill="#e8141b" text-anchor="middle" font-weight="normal" dy="0.35em" textLength="97.0" lengthAdjust="spacingAndGlyphs" stroke="#e8141b" stroke-width="0.50">Scattering amplitude (%)</text>
<text x="0.90" y="198.90" font-size="19.50" fill="#111" text-anchor="start" font-weight="bold" textLength="9.0" lengthAdjust="spacingAndGlyphs" >c</text>
<path d="M48.7,195.9 L62,195.9" stroke="#e8141b" stroke-width="1.6"/>
<text x="66.30" y="199.30" font-size="8.30" fill="#222" text-anchor="start" font-weight="normal" textLength="45.2" lengthAdjust="spacingAndGlyphs" stroke="#222" stroke-width="0.15" >WL scattering</text>
<text x="67.00" y="219.40" font-size="8.30" fill="#222" text-anchor="start" font-weight="normal" textLength="10.7" lengthAdjust="spacingAndGlyphs" stroke="#222" stroke-width="0.15" >Exp</text>
<text x="83.90" y="219.40" font-size="8.30" fill="#222" text-anchor="start" font-weight="normal" textLength="21.2" lengthAdjust="spacingAndGlyphs" stroke="#222" stroke-width="0.15" >Model</text>
<text x="63.80" y="229.80" font-size="8.30" fill="#444" text-anchor="end" font-weight="normal" textLength="15.4" lengthAdjust="spacingAndGlyphs" stroke="#444" stroke-width="0.10" >2.0V</text>
<circle cx="70.7" cy="226.80" r="1.9" fill="#e27ae8"/>
<path d="M86,226.80 L101,226.80" stroke="#7a1fa8" stroke-width="1.6"/>
<text x="63.80" y="240.00" font-size="8.30" fill="#444" text-anchor="end" font-weight="normal" textLength="15.4" lengthAdjust="spacingAndGlyphs" stroke="#444" stroke-width="0.10" >1.9V</text>
<circle cx="70.7" cy="237.00" r="1.9" fill="#55e4f0"/>
<path d="M86,237.00 L101,237.00" stroke="#1a24b0" stroke-width="1.6"/>
<text x="63.80" y="249.70" font-size="8.30" fill="#444" text-anchor="end" font-weight="normal" textLength="15.4" lengthAdjust="spacingAndGlyphs" stroke="#444" stroke-width="0.10" >1.8V</text>
<circle cx="70.7" cy="246.70" r="1.9" fill="#6ee66e"/>
<path d="M86,246.70 L101,246.70" stroke="#1a8a1a" stroke-width="1.6"/>
<text x="63.80" y="259.50" font-size="8.30" fill="#444" text-anchor="end" font-weight="normal" textLength="15.4" lengthAdjust="spacingAndGlyphs" stroke="#444" stroke-width="0.10" >1.7V</text>
<circle cx="70.7" cy="256.50" r="1.9" fill="#cfcfcf"/>
<path d="M86,256.50 L101,256.50" stroke="#111111" stroke-width="1.6"/>
<path d="M190.4,205.7 L254,205.7" stroke="#e8141b" stroke-width="1.1"/><path d="M258,205.7 L253,203.3 L253,208.1 Z" fill="#e8141b"/>
<circle cx="136.18" cy="303.50" r="1.75" fill="#d0d0d0"/>
<circle cx="137.02" cy="303.50" r="1.75" fill="#d0d0d0"/>
<circle cx="137.73" cy="303.50" r="1.75" fill="#d0d0d0"/>
<circle cx="139.14" cy="303.50" r="1.75" fill="#d0d0d0"/>
<circle cx="140.21" cy="302.32" r="1.75" fill="#d0d0d0"/>
<circle cx="141.96" cy="303.50" r="1.75" fill="#d0d0d0"/>
<circle cx="144.32" cy="302.04" r="1.75" fill="#d0d0d0"/>
<circle cx="145.13" cy="301.88" r="1.75" fill="#d0d0d0"/>
<circle cx="145.69" cy="301.99" r="1.75" fill="#d0d0d0"/>
<circle cx="147.33" cy="300.97" r="1.75" fill="#d0d0d0"/>
<circle cx="149.31" cy="298.53" r="1.75" fill="#d0d0d0"/>
<circle cx="149.69" cy="297.52" r="1.75" fill="#d0d0d0"/>
<circle cx="151.13" cy="296.90" r="1.75" fill="#d0d0d0"/>
<circle cx="152.84" cy="294.82" r="1.75" fill="#d0d0d0"/>
<circle cx="153.82" cy="295.74" r="1.75" fill="#d0d0d0"/>
<circle cx="155.69" cy="291.78" r="1.75" fill="#d0d0d0"/>
<circle cx="158.09" cy="292.65" r="1.75" fill="#d0d0d0"/>
<circle cx="158.45" cy="290.84" r="1.75" fill="#d0d0d0"/>
<circle cx="159.73" cy="292.12" r="1.75" fill="#d0d0d0"/>
<circle cx="162.23" cy="291.72" r="1.75" fill="#d0d0d0"/>
<circle cx="163.68" cy="290.37" r="1.75" fill="#d0d0d0"/>
<circle cx="165.10" cy="287.40" r="1.75" fill="#d0d0d0"/>
<circle cx="166.37" cy="290.07" r="1.75" fill="#d0d0d0"/>
<circle cx="167.51" cy="283.38" r="1.75" fill="#d0d0d0"/>
<circle cx="170.09" cy="282.96" r="1.75" fill="#d0d0d0"/>
<circle cx="170.78" cy="281.32" r="1.75" fill="#d0d0d0"/>
<circle cx="172.15" cy="287.57" r="1.75" fill="#d0d0d0"/>
<circle cx="173.05" cy="285.39" r="1.75" fill="#d0d0d0"/>
<circle cx="175.20" cy="285.56" r="1.75" fill="#d0d0d0"/>
<circle cx="176.68" cy="285.49" r="1.75" fill="#d0d0d0"/>
<circle cx="178.96" cy="280.44" r="1.75" fill="#d0d0d0"/>
<circle cx="180.16" cy="282.93" r="1.75" fill="#d0d0d0"/>
<circle cx="182.34" cy="281.49" r="1.75" fill="#d0d0d0"/>
<circle cx="182.46" cy="287.28" r="1.75" fill="#d0d0d0"/>
<circle cx="184.11" cy="284.48" r="1.75" fill="#d0d0d0"/>
<circle cx="184.60" cy="286.62" r="1.75" fill="#d0d0d0"/>
<circle cx="187.10" cy="282.82" r="1.75" fill="#d0d0d0"/>
<circle cx="188.24" cy="286.57" r="1.75" fill="#d0d0d0"/>
<circle cx="190.28" cy="284.68" r="1.75" fill="#d0d0d0"/>
<circle cx="192.00" cy="284.98" r="1.75" fill="#d0d0d0"/>
<circle cx="192.86" cy="281.20" r="1.75" fill="#d0d0d0"/>
<circle cx="194.58" cy="284.72" r="1.75" fill="#d0d0d0"/>
<circle cx="195.41" cy="283.67" r="1.75" fill="#d0d0d0"/>
<circle cx="196.41" cy="284.86" r="1.75" fill="#d0d0d0"/>
<circle cx="198.44" cy="285.47" r="1.75" fill="#d0d0d0"/>
<circle cx="200.34" cy="283.85" r="1.75" fill="#d0d0d0"/>
<circle cx="201.31" cy="283.25" r="1.75" fill="#d0d0d0"/>
<circle cx="203.12" cy="283.52" r="1.75" fill="#d0d0d0"/>
<circle cx="203.73" cy="289.64" r="1.75" fill="#d0d0d0"/>
<circle cx="204.70" cy="286.74" r="1.75" fill="#d0d0d0"/>
<circle cx="206.25" cy="292.06" r="1.75" fill="#d0d0d0"/>
<circle cx="207.78" cy="284.15" r="1.75" fill="#d0d0d0"/>
<circle cx="209.77" cy="285.72" r="1.75" fill="#d0d0d0"/>
<circle cx="211.66" cy="292.99" r="1.75" fill="#d0d0d0"/>
<circle cx="212.72" cy="285.17" r="1.75" fill="#d0d0d0"/>
<circle cx="213.44" cy="290.58" r="1.75" fill="#d0d0d0"/>
<circle cx="215.81" cy="293.20" r="1.75" fill="#d0d0d0"/>
<circle cx="216.84" cy="293.15" r="1.75" fill="#d0d0d0"/>
<circle cx="218.37" cy="288.20" r="1.75" fill="#d0d0d0"/>
<circle cx="220.20" cy="296.39" r="1.75" fill="#d0d0d0"/>
<circle cx="222.19" cy="289.37" r="1.75" fill="#d0d0d0"/>
<circle cx="222.97" cy="295.71" r="1.75" fill="#d0d0d0"/>
<circle cx="225.59" cy="282.31" r="1.75" fill="#d0d0d0"/>
<circle cx="226.53" cy="281.62" r="1.75" fill="#d0d0d0"/>
<circle cx="227.73" cy="290.22" r="1.75" fill="#d0d0d0"/>
<circle cx="229.51" cy="285.36" r="1.75" fill="#d0d0d0"/>
<circle cx="230.01" cy="285.47" r="1.75" fill="#d0d0d0"/>
<circle cx="231.30" cy="295.75" r="1.75" fill="#d0d0d0"/>
<circle cx="233.49" cy="285.28" r="1.75" fill="#d0d0d0"/>
<circle cx="233.82" cy="287.64" r="1.75" fill="#d0d0d0"/>
<circle cx="235.13" cy="286.34" r="1.75" fill="#d0d0d0"/>
<circle cx="237.48" cy="286.62" r="1.75" fill="#d0d0d0"/>
<circle cx="239.17" cy="283.85" r="1.75" fill="#d0d0d0"/>
<circle cx="240.49" cy="293.26" r="1.75" fill="#d0d0d0"/>
<circle cx="241.17" cy="295.22" r="1.75" fill="#d0d0d0"/>
<circle cx="242.67" cy="298.19" r="1.75" fill="#d0d0d0"/>
<circle cx="243.78" cy="295.55" r="1.75" fill="#d0d0d0"/>
<circle cx="245.99" cy="287.63" r="1.75" fill="#d0d0d0"/>
<circle cx="247.52" cy="296.17" r="1.75" fill="#d0d0d0"/>
<circle cx="248.33" cy="298.05" r="1.75" fill="#d0d0d0"/>
<circle cx="249.85" cy="289.29" r="1.75" fill="#d0d0d0"/>
<circle cx="252.24" cy="293.16" r="1.75" fill="#d0d0d0"/>
<circle cx="253.20" cy="297.73" r="1.75" fill="#d0d0d0"/>
<circle cx="124.59" cy="303.50" r="1.75" fill="#72e672"/>
<circle cx="125.75" cy="303.50" r="1.75" fill="#72e672"/>
<circle cx="127.49" cy="303.50" r="1.75" fill="#72e672"/>
<circle cx="129.78" cy="300.36" r="1.75" fill="#72e672"/>
<circle cx="130.31" cy="303.50" r="1.75" fill="#72e672"/>
<circle cx="132.47" cy="299.46" r="1.75" fill="#72e672"/>
<circle cx="133.62" cy="303.23" r="1.75" fill="#72e672"/>
<circle cx="135.42" cy="299.98" r="1.75" fill="#72e672"/>
<circle cx="136.94" cy="299.52" r="1.75" fill="#72e672"/>
<circle cx="137.66" cy="299.54" r="1.75" fill="#72e672"/>
<circle cx="139.13" cy="298.59" r="1.75" fill="#72e672"/>
<circle cx="139.92" cy="296.31" r="1.75" fill="#72e672"/>
<circle cx="141.96" cy="295.49" r="1.75" fill="#72e672"/>
<circle cx="143.07" cy="289.12" r="1.75" fill="#72e672"/>
<circle cx="145.29" cy="291.77" r="1.75" fill="#72e672"/>
<circle cx="147.66" cy="291.19" r="1.75" fill="#72e672"/>
<circle cx="148.55" cy="291.71" r="1.75" fill="#72e672"/>
<circle cx="149.64" cy="291.32" r="1.75" fill="#72e672"/>
<circle cx="150.59" cy="285.99" r="1.75" fill="#72e672"/>
<circle cx="153.19" cy="282.79" r="1.75" fill="#72e672"/>
<circle cx="154.29" cy="286.87" r="1.75" fill="#72e672"/>
<circle cx="156.61" cy="283.52" r="1.75" fill="#72e672"/>
<circle cx="157.66" cy="274.83" r="1.75" fill="#72e672"/>
<circle cx="159.01" cy="277.10" r="1.75" fill="#72e672"/>
<circle cx="159.60" cy="279.04" r="1.75" fill="#72e672"/>
<circle cx="161.04" cy="277.95" r="1.75" fill="#72e672"/>
<circle cx="162.50" cy="276.14" r="1.75" fill="#72e672"/>
<circle cx="163.41" cy="272.97" r="1.75" fill="#72e672"/>
<circle cx="164.79" cy="274.39" r="1.75" fill="#72e672"/>
<circle cx="165.65" cy="273.87" r="1.75" fill="#72e672"/>
<circle cx="167.83" cy="274.02" r="1.75" fill="#72e672"/>
<circle cx="168.81" cy="271.77" r="1.75" fill="#72e672"/>
<circle cx="170.86" cy="268.98" r="1.75" fill="#72e672"/>
<circle cx="172.43" cy="273.08" r="1.75" fill="#72e672"/>
<circle cx="174.32" cy="269.53" r="1.75" fill="#72e672"/>
<circle cx="175.18" cy="266.45" r="1.75" fill="#72e672"/>
<circle cx="176.46" cy="274.85" r="1.75" fill="#72e672"/>
<circle cx="177.34" cy="273.08" r="1.75" fill="#72e672"/>
<circle cx="179.40" cy="274.73" r="1.75" fill="#72e672"/>
<circle cx="180.58" cy="269.40" r="1.75" fill="#72e672"/>
<circle cx="181.95" cy="274.77" r="1.75" fill="#72e672"/>
<circle cx="184.76" cy="276.69" r="1.75" fill="#72e672"/>
<circle cx="185.47" cy="275.37" r="1.75" fill="#72e672"/>
<circle cx="186.39" cy="282.58" r="1.75" fill="#72e672"/>
<circle cx="187.95" cy="273.70" r="1.75" fill="#72e672"/>
<circle cx="189.17" cy="278.02" r="1.75" fill="#72e672"/>
<circle cx="190.40" cy="280.38" r="1.75" fill="#72e672"/>
<circle cx="191.64" cy="280.15" r="1.75" fill="#72e672"/>
<circle cx="193.33" cy="276.21" r="1.75" fill="#72e672"/>
<circle cx="194.52" cy="277.05" r="1.75" fill="#72e672"/>
<circle cx="196.18" cy="280.11" r="1.75" fill="#72e672"/>
<circle cx="197.89" cy="281.99" r="1.75" fill="#72e672"/>
<circle cx="198.48" cy="280.15" r="1.75" fill="#72e672"/>
<circle cx="200.65" cy="276.45" r="1.75" fill="#72e672"/>
<circle cx="202.22" cy="280.26" r="1.75" fill="#72e672"/>
<circle cx="203.12" cy="280.29" r="1.75" fill="#72e672"/>
<circle cx="204.83" cy="279.92" r="1.75" fill="#72e672"/>
<circle cx="206.23" cy="283.67" r="1.75" fill="#72e672"/>
<circle cx="207.05" cy="285.03" r="1.75" fill="#72e672"/>
<circle cx="208.72" cy="283.75" r="1.75" fill="#72e672"/>
<circle cx="209.79" cy="282.74" r="1.75" fill="#72e672"/>
<circle cx="210.54" cy="279.44" r="1.75" fill="#72e672"/>
<circle cx="212.08" cy="279.81" r="1.75" fill="#72e672"/>
<circle cx="212.82" cy="285.40" r="1.75" fill="#72e672"/>
<circle cx="214.40" cy="289.18" r="1.75" fill="#72e672"/>
<circle cx="215.34" cy="284.39" r="1.75" fill="#72e672"/>
<circle cx="216.72" cy="288.62" r="1.75" fill="#72e672"/>
<circle cx="218.48" cy="283.50" r="1.75" fill="#72e672"/>
<circle cx="218.45" cy="291.29" r="1.75" fill="#72e672"/>
<circle cx="220.27" cy="284.77" r="1.75" fill="#72e672"/>
<circle cx="221.08" cy="270.76" r="1.75" fill="#72e672"/>
<circle cx="223.41" cy="280.28" r="1.75" fill="#72e672"/>
<circle cx="224.28" cy="293.04" r="1.75" fill="#72e672"/>
<circle cx="225.37" cy="270.65" r="1.75" fill="#72e672"/>
<circle cx="226.15" cy="287.63" r="1.75" fill="#72e672"/>
<circle cx="227.13" cy="281.53" r="1.75" fill="#72e672"/>
<circle cx="229.48" cy="288.78" r="1.75" fill="#72e672"/>
<circle cx="230.48" cy="294.31" r="1.75" fill="#72e672"/>
<circle cx="231.72" cy="279.45" r="1.75" fill="#72e672"/>
<circle cx="232.30" cy="278.73" r="1.75" fill="#72e672"/>
<circle cx="233.17" cy="279.38" r="1.75" fill="#72e672"/>
<circle cx="235.26" cy="280.01" r="1.75" fill="#72e672"/>
<circle cx="236.72" cy="268.29" r="1.75" fill="#72e672"/>
<circle cx="238.48" cy="288.68" r="1.75" fill="#72e672"/>
<circle cx="239.64" cy="290.44" r="1.75" fill="#72e672"/>
<circle cx="240.40" cy="293.20" r="1.75" fill="#72e672"/>
<circle cx="241.47" cy="290.71" r="1.75" fill="#72e672"/>
<circle cx="243.26" cy="271.35" r="1.75" fill="#72e672"/>
<circle cx="243.84" cy="294.54" r="1.75" fill="#72e672"/>
<circle cx="244.65" cy="283.09" r="1.75" fill="#72e672"/>
<circle cx="247.29" cy="287.18" r="1.75" fill="#72e672"/>
<circle cx="248.33" cy="285.89" r="1.75" fill="#72e672"/>
<circle cx="249.28" cy="284.12" r="1.75" fill="#72e672"/>
<circle cx="250.98" cy="296.30" r="1.75" fill="#72e672"/>
<circle cx="251.79" cy="280.17" r="1.75" fill="#72e672"/>
<circle cx="105.56" cy="303.50" r="1.75" fill="#5ae0f0"/>
<circle cx="106.04" cy="303.50" r="1.75" fill="#5ae0f0"/>
<circle cx="107.36" cy="303.50" r="1.75" fill="#5ae0f0"/>
<circle cx="108.68" cy="303.20" r="1.75" fill="#5ae0f0"/>
<circle cx="110.64" cy="303.50" r="1.75" fill="#5ae0f0"/>
<circle cx="110.56" cy="302.26" r="1.75" fill="#5ae0f0"/>
<circle cx="112.90" cy="303.01" r="1.75" fill="#5ae0f0"/>
<circle cx="113.57" cy="300.73" r="1.75" fill="#5ae0f0"/>
<circle cx="116.19" cy="301.62" r="1.75" fill="#5ae0f0"/>
<circle cx="116.32" cy="297.79" r="1.75" fill="#5ae0f0"/>
<circle cx="118.39" cy="297.29" r="1.75" fill="#5ae0f0"/>
<circle cx="119.73" cy="297.62" r="1.75" fill="#5ae0f0"/>
<circle cx="120.74" cy="294.90" r="1.75" fill="#5ae0f0"/>
<circle cx="122.74" cy="295.73" r="1.75" fill="#5ae0f0"/>
<circle cx="124.52" cy="292.78" r="1.75" fill="#5ae0f0"/>
<circle cx="126.31" cy="291.18" r="1.75" fill="#5ae0f0"/>
<circle cx="127.84" cy="290.84" r="1.75" fill="#5ae0f0"/>
<circle cx="129.22" cy="289.05" r="1.75" fill="#5ae0f0"/>
<circle cx="130.26" cy="287.14" r="1.75" fill="#5ae0f0"/>
<circle cx="132.46" cy="285.85" r="1.75" fill="#5ae0f0"/>
<circle cx="133.20" cy="286.09" r="1.75" fill="#5ae0f0"/>
<circle cx="135.24" cy="281.87" r="1.75" fill="#5ae0f0"/>
<circle cx="136.36" cy="281.53" r="1.75" fill="#5ae0f0"/>
<circle cx="137.91" cy="280.51" r="1.75" fill="#5ae0f0"/>
<circle cx="138.86" cy="276.49" r="1.75" fill="#5ae0f0"/>
<circle cx="139.93" cy="273.65" r="1.75" fill="#5ae0f0"/>
<circle cx="141.85" cy="275.79" r="1.75" fill="#5ae0f0"/>
<circle cx="143.21" cy="271.97" r="1.75" fill="#5ae0f0"/>
<circle cx="144.71" cy="273.66" r="1.75" fill="#5ae0f0"/>
<circle cx="145.15" cy="269.07" r="1.75" fill="#5ae0f0"/>
<circle cx="147.21" cy="264.67" r="1.75" fill="#5ae0f0"/>
<circle cx="147.99" cy="271.59" r="1.75" fill="#5ae0f0"/>
<circle cx="149.26" cy="258.81" r="1.75" fill="#5ae0f0"/>
<circle cx="150.67" cy="253.74" r="1.75" fill="#5ae0f0"/>
<circle cx="152.46" cy="257.59" r="1.75" fill="#5ae0f0"/>
<circle cx="154.80" cy="255.52" r="1.75" fill="#5ae0f0"/>
<circle cx="156.71" cy="249.81" r="1.75" fill="#5ae0f0"/>
<circle cx="157.08" cy="235.95" r="1.75" fill="#5ae0f0"/>
<circle cx="159.58" cy="245.80" r="1.75" fill="#5ae0f0"/>
<circle cx="160.55" cy="243.41" r="1.75" fill="#5ae0f0"/>
<circle cx="161.70" cy="243.18" r="1.75" fill="#5ae0f0"/>
<circle cx="163.80" cy="242.43" r="1.75" fill="#5ae0f0"/>
<circle cx="164.12" cy="244.17" r="1.75" fill="#5ae0f0"/>
<circle cx="166.48" cy="239.65" r="1.75" fill="#5ae0f0"/>
<circle cx="167.32" cy="243.86" r="1.75" fill="#5ae0f0"/>
<circle cx="169.01" cy="240.14" r="1.75" fill="#5ae0f0"/>
<circle cx="170.57" cy="239.07" r="1.75" fill="#5ae0f0"/>
<circle cx="172.79" cy="236.96" r="1.75" fill="#5ae0f0"/>
<circle cx="173.92" cy="238.75" r="1.75" fill="#5ae0f0"/>
<circle cx="174.90" cy="237.17" r="1.75" fill="#5ae0f0"/>
<circle cx="177.04" cy="236.39" r="1.75" fill="#5ae0f0"/>
<circle cx="177.78" cy="242.20" r="1.75" fill="#5ae0f0"/>
<circle cx="179.16" cy="239.36" r="1.75" fill="#5ae0f0"/>
<circle cx="181.99" cy="244.95" r="1.75" fill="#5ae0f0"/>
<circle cx="182.77" cy="244.03" r="1.75" fill="#5ae0f0"/>
<circle cx="185.06" cy="243.98" r="1.75" fill="#5ae0f0"/>
<circle cx="186.37" cy="243.60" r="1.75" fill="#5ae0f0"/>
<circle cx="188.41" cy="248.82" r="1.75" fill="#5ae0f0"/>
<circle cx="189.39" cy="249.79" r="1.75" fill="#5ae0f0"/>
<circle cx="190.88" cy="243.50" r="1.75" fill="#5ae0f0"/>
<circle cx="192.35" cy="245.26" r="1.75" fill="#5ae0f0"/>
<circle cx="192.69" cy="247.71" r="1.75" fill="#5ae0f0"/>
<circle cx="193.76" cy="253.75" r="1.75" fill="#5ae0f0"/>
<circle cx="195.67" cy="259.23" r="1.75" fill="#5ae0f0"/>
<circle cx="197.09" cy="253.69" r="1.75" fill="#5ae0f0"/>
<circle cx="198.28" cy="251.03" r="1.75" fill="#5ae0f0"/>
<circle cx="199.87" cy="256.06" r="1.75" fill="#5ae0f0"/>
<circle cx="200.69" cy="261.06" r="1.75" fill="#5ae0f0"/>
<circle cx="201.51" cy="261.07" r="1.75" fill="#5ae0f0"/>
<circle cx="202.98" cy="256.24" r="1.75" fill="#5ae0f0"/>
<circle cx="204.05" cy="245.64" r="1.75" fill="#5ae0f0"/>
<circle cx="205.69" cy="266.38" r="1.75" fill="#5ae0f0"/>
<circle cx="206.42" cy="256.59" r="1.75" fill="#5ae0f0"/>
<circle cx="207.36" cy="265.56" r="1.75" fill="#5ae0f0"/>
<circle cx="209.34" cy="269.76" r="1.75" fill="#5ae0f0"/>
<circle cx="209.75" cy="272.35" r="1.75" fill="#5ae0f0"/>
<circle cx="211.81" cy="269.25" r="1.75" fill="#5ae0f0"/>
<circle cx="212.74" cy="263.05" r="1.75" fill="#5ae0f0"/>
<circle cx="214.38" cy="260.45" r="1.75" fill="#5ae0f0"/>
<circle cx="215.44" cy="271.33" r="1.75" fill="#5ae0f0"/>
<circle cx="216.58" cy="265.37" r="1.75" fill="#5ae0f0"/>
<circle cx="217.50" cy="270.41" r="1.75" fill="#5ae0f0"/>
<circle cx="218.63" cy="273.08" r="1.75" fill="#5ae0f0"/>
<circle cx="220.37" cy="267.19" r="1.75" fill="#5ae0f0"/>
<circle cx="222.28" cy="262.32" r="1.75" fill="#5ae0f0"/>
<circle cx="223.54" cy="273.45" r="1.75" fill="#5ae0f0"/>
<circle cx="224.13" cy="279.04" r="1.75" fill="#5ae0f0"/>
<circle cx="226.40" cy="263.91" r="1.75" fill="#5ae0f0"/>
<circle cx="227.70" cy="272.97" r="1.75" fill="#5ae0f0"/>
<circle cx="229.20" cy="276.24" r="1.75" fill="#5ae0f0"/>
<circle cx="230.75" cy="267.06" r="1.75" fill="#5ae0f0"/>
<circle cx="231.82" cy="276.14" r="1.75" fill="#5ae0f0"/>
<circle cx="233.26" cy="274.88" r="1.75" fill="#5ae0f0"/>
<circle cx="234.55" cy="292.47" r="1.75" fill="#5ae0f0"/>
<circle cx="235.91" cy="284.84" r="1.75" fill="#5ae0f0"/>
<circle cx="237.25" cy="285.49" r="1.75" fill="#5ae0f0"/>
<circle cx="238.35" cy="265.50" r="1.75" fill="#5ae0f0"/>
<circle cx="238.97" cy="269.83" r="1.75" fill="#5ae0f0"/>
<circle cx="240.45" cy="275.76" r="1.75" fill="#5ae0f0"/>
<circle cx="242.27" cy="279.40" r="1.75" fill="#5ae0f0"/>
<circle cx="242.92" cy="286.92" r="1.75" fill="#5ae0f0"/>
<circle cx="244.11" cy="288.36" r="1.75" fill="#5ae0f0"/>
<circle cx="245.59" cy="272.23" r="1.75" fill="#5ae0f0"/>
<circle cx="246.92" cy="282.03" r="1.75" fill="#5ae0f0"/>
<circle cx="247.94" cy="286.48" r="1.75" fill="#5ae0f0"/>
<circle cx="248.54" cy="281.45" r="1.75" fill="#5ae0f0"/>
<circle cx="250.27" cy="276.95" r="1.75" fill="#5ae0f0"/>
<circle cx="251.39" cy="287.51" r="1.75" fill="#5ae0f0"/>
<circle cx="252.77" cy="284.02" r="1.75" fill="#5ae0f0"/>
<circle cx="94.43" cy="303.50" r="1.75" fill="#e07ae8"/>
<circle cx="96.27" cy="303.50" r="1.75" fill="#e07ae8"/>
<circle cx="97.78" cy="303.50" r="1.75" fill="#e07ae8"/>
<circle cx="100.24" cy="303.50" r="1.75" fill="#e07ae8"/>
<circle cx="100.30" cy="303.50" r="1.75" fill="#e07ae8"/>
<circle cx="102.42" cy="300.59" r="1.75" fill="#e07ae8"/>
<circle cx="103.57" cy="303.41" r="1.75" fill="#e07ae8"/>
<circle cx="104.25" cy="301.82" r="1.75" fill="#e07ae8"/>
<circle cx="106.16" cy="301.99" r="1.75" fill="#e07ae8"/>
<circle cx="106.85" cy="302.21" r="1.75" fill="#e07ae8"/>
<circle cx="108.72" cy="302.23" r="1.75" fill="#e07ae8"/>
<circle cx="110.00" cy="302.22" r="1.75" fill="#e07ae8"/>
<circle cx="112.32" cy="299.99" r="1.75" fill="#e07ae8"/>
<circle cx="113.90" cy="299.18" r="1.75" fill="#e07ae8"/>
<circle cx="114.49" cy="294.73" r="1.75" fill="#e07ae8"/>
<circle cx="117.11" cy="294.38" r="1.75" fill="#e07ae8"/>
<circle cx="118.88" cy="295.22" r="1.75" fill="#e07ae8"/>
<circle cx="119.66" cy="292.64" r="1.75" fill="#e07ae8"/>
<circle cx="121.86" cy="291.64" r="1.75" fill="#e07ae8"/>
<circle cx="122.90" cy="291.93" r="1.75" fill="#e07ae8"/>
<circle cx="123.80" cy="287.07" r="1.75" fill="#e07ae8"/>
<circle cx="125.10" cy="284.37" r="1.75" fill="#e07ae8"/>
<circle cx="126.37" cy="288.32" r="1.75" fill="#e07ae8"/>
<circle cx="127.62" cy="285.94" r="1.75" fill="#e07ae8"/>
<circle cx="129.67" cy="284.10" r="1.75" fill="#e07ae8"/>
<circle cx="129.82" cy="282.95" r="1.75" fill="#e07ae8"/>
<circle cx="131.37" cy="281.67" r="1.75" fill="#e07ae8"/>
<circle cx="133.35" cy="279.26" r="1.75" fill="#e07ae8"/>
<circle cx="133.93" cy="274.44" r="1.75" fill="#e07ae8"/>
<circle cx="135.99" cy="271.05" r="1.75" fill="#e07ae8"/>
<circle cx="137.81" cy="274.22" r="1.75" fill="#e07ae8"/>
<circle cx="139.01" cy="270.11" r="1.75" fill="#e07ae8"/>
<circle cx="140.39" cy="269.71" r="1.75" fill="#e07ae8"/>
<circle cx="141.78" cy="263.10" r="1.75" fill="#e07ae8"/>
<circle cx="142.69" cy="264.65" r="1.75" fill="#e07ae8"/>
<circle cx="144.34" cy="253.68" r="1.75" fill="#e07ae8"/>
<circle cx="145.84" cy="250.76" r="1.75" fill="#e07ae8"/>
<circle cx="147.54" cy="251.29" r="1.75" fill="#e07ae8"/>
<circle cx="149.27" cy="249.04" r="1.75" fill="#e07ae8"/>
<circle cx="151.21" cy="243.42" r="1.75" fill="#e07ae8"/>
<circle cx="152.58" cy="242.33" r="1.75" fill="#e07ae8"/>
<circle cx="153.49" cy="236.71" r="1.75" fill="#e07ae8"/>
<circle cx="155.32" cy="237.12" r="1.75" fill="#e07ae8"/>
<circle cx="158.04" cy="225.12" r="1.75" fill="#e07ae8"/>
<circle cx="158.83" cy="229.32" r="1.75" fill="#e07ae8"/>
<circle cx="159.85" cy="222.70" r="1.75" fill="#e07ae8"/>
<circle cx="161.35" cy="222.32" r="1.75" fill="#e07ae8"/>
<circle cx="163.20" cy="230.77" r="1.75" fill="#e07ae8"/>
<circle cx="164.48" cy="217.47" r="1.75" fill="#e07ae8"/>
<circle cx="165.33" cy="219.58" r="1.75" fill="#e07ae8"/>
<circle cx="167.67" cy="223.81" r="1.75" fill="#e07ae8"/>
<circle cx="167.85" cy="220.05" r="1.75" fill="#e07ae8"/>
<circle cx="169.59" cy="221.07" r="1.75" fill="#e07ae8"/>
<circle cx="171.01" cy="210.09" r="1.75" fill="#e07ae8"/>
<circle cx="171.97" cy="222.35" r="1.75" fill="#e07ae8"/>
<circle cx="173.68" cy="231.65" r="1.75" fill="#e07ae8"/>
<circle cx="175.69" cy="211.75" r="1.75" fill="#e07ae8"/>
<circle cx="177.22" cy="226.15" r="1.75" fill="#e07ae8"/>
<circle cx="178.65" cy="221.84" r="1.75" fill="#e07ae8"/>
<circle cx="180.07" cy="225.01" r="1.75" fill="#e07ae8"/>
<circle cx="182.01" cy="228.85" r="1.75" fill="#e07ae8"/>
<circle cx="184.22" cy="230.67" r="1.75" fill="#e07ae8"/>
<circle cx="185.69" cy="232.20" r="1.75" fill="#e07ae8"/>
<circle cx="187.29" cy="232.70" r="1.75" fill="#e07ae8"/>
<circle cx="188.60" cy="239.83" r="1.75" fill="#e07ae8"/>
<circle cx="190.95" cy="239.36" r="1.75" fill="#e07ae8"/>
<circle cx="192.94" cy="243.79" r="1.75" fill="#e07ae8"/>
<circle cx="193.92" cy="241.43" r="1.75" fill="#e07ae8"/>
<circle cx="195.48" cy="247.18" r="1.75" fill="#e07ae8"/>
<circle cx="196.55" cy="243.69" r="1.75" fill="#e07ae8"/>
<circle cx="197.72" cy="247.55" r="1.75" fill="#e07ae8"/>
<circle cx="198.94" cy="249.44" r="1.75" fill="#e07ae8"/>
<circle cx="201.35" cy="244.83" r="1.75" fill="#e07ae8"/>
<circle cx="201.58" cy="257.97" r="1.75" fill="#e07ae8"/>
<circle cx="203.22" cy="245.27" r="1.75" fill="#e07ae8"/>
<circle cx="205.41" cy="254.35" r="1.75" fill="#e07ae8"/>
<circle cx="205.28" cy="260.44" r="1.75" fill="#e07ae8"/>
<circle cx="206.30" cy="255.09" r="1.75" fill="#e07ae8"/>
<circle cx="207.86" cy="254.06" r="1.75" fill="#e07ae8"/>
<circle cx="209.29" cy="249.40" r="1.75" fill="#e07ae8"/>
<circle cx="211.66" cy="258.70" r="1.75" fill="#e07ae8"/>
<circle cx="212.27" cy="261.82" r="1.75" fill="#e07ae8"/>
<circle cx="214.59" cy="267.36" r="1.75" fill="#e07ae8"/>
<circle cx="216.09" cy="261.47" r="1.75" fill="#e07ae8"/>
<circle cx="216.17" cy="269.42" r="1.75" fill="#e07ae8"/>
<circle cx="217.47" cy="275.83" r="1.75" fill="#e07ae8"/>
<circle cx="219.42" cy="261.12" r="1.75" fill="#e07ae8"/>
<circle cx="220.83" cy="274.70" r="1.75" fill="#e07ae8"/>
<circle cx="222.37" cy="259.96" r="1.75" fill="#e07ae8"/>
<circle cx="224.12" cy="264.55" r="1.75" fill="#e07ae8"/>
<circle cx="225.69" cy="266.83" r="1.75" fill="#e07ae8"/>
<circle cx="226.53" cy="266.15" r="1.75" fill="#e07ae8"/>
<circle cx="227.71" cy="269.63" r="1.75" fill="#e07ae8"/>
<circle cx="228.97" cy="273.63" r="1.75" fill="#e07ae8"/>
<circle cx="229.70" cy="280.12" r="1.75" fill="#e07ae8"/>
<circle cx="232.62" cy="270.76" r="1.75" fill="#e07ae8"/>
<circle cx="233.35" cy="285.87" r="1.75" fill="#e07ae8"/>
<circle cx="235.08" cy="273.07" r="1.75" fill="#e07ae8"/>
<circle cx="236.29" cy="262.86" r="1.75" fill="#e07ae8"/>
<circle cx="236.98" cy="285.86" r="1.75" fill="#e07ae8"/>
<circle cx="239.36" cy="265.21" r="1.75" fill="#e07ae8"/>
<circle cx="240.05" cy="285.33" r="1.75" fill="#e07ae8"/>
<circle cx="241.52" cy="278.22" r="1.75" fill="#e07ae8"/>
<circle cx="242.93" cy="291.02" r="1.75" fill="#e07ae8"/>
<circle cx="243.58" cy="262.46" r="1.75" fill="#e07ae8"/>
<circle cx="245.48" cy="286.75" r="1.75" fill="#e07ae8"/>
<circle cx="246.55" cy="272.36" r="1.75" fill="#e07ae8"/>
<circle cx="247.27" cy="278.64" r="1.75" fill="#e07ae8"/>
<circle cx="249.16" cy="295.24" r="1.75" fill="#e07ae8"/>
<circle cx="250.63" cy="279.43" r="1.75" fill="#e07ae8"/>
<circle cx="252.22" cy="290.43" r="1.75" fill="#e07ae8"/>
<path d="M35.30,301.33 L36.70,301.35 L38.10,301.10 L39.50,301.08 L40.90,301.11 L42.30,300.79 L43.70,300.51 L45.10,300.45 L46.50,299.50 L47.90,299.39 L49.30,298.75 L50.70,298.57 L52.10,297.54 L53.50,297.44 L54.90,296.30 L56.30,295.39 L57.70,294.84 L59.10,294.23 L60.50,293.11 L61.90,292.51 L63.30,291.64 L64.70,290.95 L66.10,289.81 L67.50,288.53 L68.90,287.29 L70.30,286.43 L71.70,285.81 L73.10,284.88 L74.50,284.03 L75.90,283.80 L77.30,282.95 L78.70,283.20 L80.10,283.51 L81.50,284.33 L82.90,284.73 L84.30,284.99 L85.70,285.32 L87.10,285.83 L88.50,286.04 L89.90,287.00 L91.30,287.02 L92.70,287.67 L94.10,287.82 L95.50,287.82 L96.90,287.58 L98.30,287.46 L99.70,287.63 L101.10,286.73 L102.50,286.51 L103.90,285.46 L105.30,285.00 L106.70,283.63 L108.10,282.74 L109.50,281.69 L110.90,280.85 L112.30,278.98 L113.70,277.16 L115.10,275.96 L116.50,273.95 L117.90,271.96 L119.30,269.87 L120.70,267.87 L122.10,265.71 L123.50,263.44 L124.90,260.89 L126.30,258.11 L127.70,255.91 L129.10,253.12 L130.50,249.82 L131.90,247.62 L133.30,244.88 L134.70,242.00 L136.10,238.75 L137.50,236.43 L138.90,233.45 L140.30,230.16 L141.70,227.31 L143.10,225.10 L144.50,221.92 L145.90,218.66 L147.30,215.64 L148.70,212.93 L150.10,210.26 L151.50,208.11 L152.90,206.01 L154.30,204.07 L155.70,202.80 L157.10,200.80 L158.50,198.39 L159.90,197.08 L161.30,196.98 L162.70,197.19 L164.10,196.52 L165.50,196.04 L166.90,195.99 L168.30,197.76 L169.70,198.93 L171.10,200.29 L172.50,201.12 L173.90,202.11 L175.30,203.57 L176.70,208.63 L178.10,211.29 L179.50,213.72 L180.90,215.71 L182.30,217.65 L183.70,220.58 L185.10,222.96 L186.50,225.98 L187.90,228.55 L189.30,231.59 L190.70,234.40 L192.10,237.63 L193.50,241.12 L194.90,243.79 L196.30,247.40 L197.70,249.86 L199.10,252.64 L200.50,255.42 L201.90,257.73 L203.30,259.55 L204.70,261.72 L206.10,263.93 L207.50,264.72 L208.90,266.53 L210.30,267.94 L211.70,268.93 L213.10,270.75 L214.50,272.21 L215.90,273.80 L217.30,274.46 L218.70,275.99 L220.10,276.74 L221.50,277.80 L222.90,279.16 L224.30,279.64 L225.70,281.19 L227.10,282.20 L228.50,283.08 L229.90,284.37 L231.30,284.89 L232.70,285.84 L234.10,286.74 L235.50,287.78 L236.90,288.26 L238.30,289.28 L239.70,290.14 L241.10,291.10 L242.50,292.08 L243.90,292.41 L245.30,293.48 L246.70,293.88 L248.10,294.65 L249.50,295.19 L250.90,296.05 L252.30,297.08 L253.70,297.56 L255.10,298.28 L256.50,298.34 L257.90,298.70 L259.30,299.06 L260.70,299.64 L262.10,300.05 L263.50,300.53 L264.90,300.38 L266.30,301.23 L267.70,301.72" stroke="#e8141b" stroke-width="1.5" fill="none" stroke-linejoin="round"/>
<path d="M132.00,304.20 L133.30,304.20 L134.60,304.20 L135.90,304.20 L137.20,304.20 L138.50,304.20 L139.80,304.20 L141.10,304.19 L142.40,304.11 L143.70,303.42 L145.00,302.47 L146.30,301.71 L147.60,300.95 L148.90,300.12 L150.20,299.01 L151.50,298.02 L152.80,296.69 L154.10,295.92 L155.40,294.93 L156.70,294.32 L158.00,293.14 L159.30,292.40 L160.60,291.52 L161.90,291.33 L163.20,290.77 L164.50,289.98 L165.80,289.16 L167.10,288.86 L168.40,288.40 L169.70,287.83 L171.00,287.20 L172.30,286.79 L173.60,286.43 L174.90,285.92 L176.20,285.88 L177.50,285.91 L178.80,286.00 L180.10,285.38 L181.40,285.60 L182.70,285.27 L184.00,285.46 L185.30,286.01 L186.60,286.02 L187.90,286.36 L189.20,286.22 L190.50,286.29 L191.80,286.92 L193.10,287.45 L194.40,288.06 L195.70,288.50 L197.00,288.57 L198.30,288.90 L199.60,289.03 L200.90,289.86 L202.20,289.90 L203.50,290.36 L204.80,290.73 L206.10,291.23 L207.40,292.51 L208.70,292.38 L210.00,293.94 L211.30,293.32 L212.60,294.87 L213.90,294.34 L215.20,294.62 L216.50,295.95 L217.80,295.46 L219.10,296.53 L220.40,295.87 L221.70,295.87 L223.00,297.44 L224.30,297.61 L225.60,298.16 L226.90,298.20 L228.20,297.14 L229.50,298.52 L230.80,298.96 L232.10,298.68 L233.40,300.01 L234.70,298.70 L236.00,300.65 L237.30,300.32 L238.60,298.81 L239.90,299.00 L241.20,300.78 L242.50,301.37 L243.80,299.50 L245.10,300.25 L246.40,301.57 L247.70,300.08 L249.00,302.26 L250.30,301.28 L251.60,300.09 L252.90,301.17 L254.20,301.96 L255.50,301.63 L256.80,302.50 L258.10,300.80 L259.40,303.10 L260.70,301.69 L262.00,302.76 L263.30,302.80 L264.60,302.12 L265.90,302.08 L267.20,303.67 L268.50,304.20 L269.00,302.70" stroke="#111111" stroke-width="1.7" fill="none" stroke-linejoin="round"/>
<path d="M121.10,304.20 L122.40,304.20 L123.70,304.20 L125.00,303.83 L126.30,303.97 L127.60,303.30 L128.90,302.86 L130.20,302.05 L131.50,301.70 L132.80,301.25 L134.10,300.48 L135.40,299.50 L136.70,298.15 L138.00,297.05 L139.30,296.16 L140.60,294.68 L141.90,293.61 L143.20,292.26 L144.50,291.14 L145.80,289.78 L147.10,288.17 L148.40,286.70 L149.70,285.56 L151.00,284.35 L152.30,283.15 L153.60,281.99 L154.90,280.73 L156.20,278.93 L157.50,278.10 L158.80,276.79 L160.10,275.66 L161.40,274.44 L162.70,273.21 L164.00,272.52 L165.30,271.44 L166.60,270.78 L167.90,270.40 L169.20,269.55 L170.50,268.88 L171.80,268.69 L173.10,268.57 L174.40,267.95 L175.70,268.01 L177.00,268.49 L178.30,268.63 L179.60,269.42 L180.90,270.02 L182.20,270.61 L183.50,271.20 L184.80,271.98 L186.10,273.02 L187.40,273.80 L188.70,274.39 L190.00,274.95 L191.30,276.17 L192.60,276.94 L193.90,277.40 L195.20,278.40 L196.50,279.41 L197.80,280.21 L199.10,280.74 L200.40,281.27 L201.70,281.88 L203.00,282.02 L204.30,282.52 L205.60,283.01 L206.90,284.26 L208.20,284.55 L209.50,285.48 L210.80,285.95 L212.10,286.79 L213.40,286.96 L214.70,287.47 L216.00,289.36 L217.30,288.80 L218.60,288.75 L219.90,290.01 L221.20,290.68 L222.50,289.95 L223.80,291.15 L225.10,291.06 L226.40,291.80 L227.70,291.19 L229.00,291.61 L230.30,294.07 L231.60,294.25 L232.90,293.84 L234.20,294.45 L235.50,294.15 L236.80,295.83 L238.10,295.39 L239.40,297.14 L240.70,297.08 L242.00,297.62 L243.30,298.41 L244.60,296.85 L245.90,296.60 L247.20,297.43 L248.50,297.74 L249.80,297.81 L251.10,298.07 L252.40,300.01 L253.70,301.40 L255.00,300.46 L256.30,302.24 L257.60,302.31 L258.90,299.61 L260.20,301.61 L261.50,301.07 L262.80,300.24 L264.10,303.44 L265.40,301.04 L266.70,302.35 L268.00,302.81 L269.00,302.40" stroke="#148a14" stroke-width="1.7" fill="none" stroke-linejoin="round"/>
<path d="M101.00,304.20 L102.30,304.20 L103.60,304.20 L104.90,304.20 L106.20,303.99 L107.50,304.20 L108.80,304.19 L110.10,303.40 L111.40,302.70 L112.70,302.23 L114.00,301.69 L115.30,301.42 L116.60,300.83 L117.90,300.00 L119.20,298.65 L120.50,298.22 L121.80,297.30 L123.10,296.39 L124.40,295.69 L125.70,293.83 L127.00,292.59 L128.30,291.65 L129.60,290.46 L130.90,289.08 L132.20,287.75 L133.50,286.83 L134.80,285.82 L136.10,284.20 L137.40,283.07 L138.70,281.78 L140.00,280.44 L141.30,279.24 L142.60,276.80 L143.90,274.59 L145.20,272.27 L146.50,270.38 L147.80,267.84 L149.10,266.12 L150.40,263.64 L151.70,261.33 L153.00,259.66 L154.30,257.02 L155.60,255.08 L156.90,252.48 L158.20,249.93 L159.50,247.99 L160.80,246.77 L162.10,245.19 L163.40,244.82 L164.70,243.91 L166.00,242.91 L167.30,241.94 L168.60,241.38 L169.90,241.20 L171.20,240.53 L172.50,240.16 L173.80,239.41 L175.10,239.44 L176.40,240.34 L177.70,241.74 L179.00,242.64 L180.30,243.39 L181.60,244.81 L182.90,245.43 L184.20,246.49 L185.50,247.34 L186.80,248.44 L188.10,249.80 L189.40,250.52 L190.70,251.44 L192.00,252.91 L193.30,254.13 L194.60,255.80 L195.90,256.64 L197.20,258.63 L198.50,259.85 L199.80,262.40 L201.10,264.13 L202.40,265.47 L203.70,267.30 L205.00,268.70 L206.30,270.24 L207.60,271.47 L208.90,272.82 L210.20,274.79 L211.50,276.00 L212.80,277.10 L214.10,277.11 L215.40,278.43 L216.70,280.16 L218.00,279.63 L219.30,281.52 L220.60,281.59 L221.90,283.60 L223.20,282.65 L224.50,284.92 L225.80,284.83 L227.10,285.21 L228.40,285.68 L229.70,288.18 L231.00,288.30 L232.30,288.31 L233.60,289.63 L234.90,291.51 L236.20,290.63 L237.50,292.25 L238.80,291.93 L240.10,292.66 L241.40,294.72 L242.70,295.10 L244.00,294.22 L245.30,294.40 L246.60,294.92 L247.90,296.95 L249.20,297.14 L250.50,296.99 L251.80,297.30 L253.10,299.09 L254.40,299.93 L255.70,300.65 L257.00,300.16 L258.30,299.13 L259.60,298.89 L260.90,301.45 L262.20,300.56 L263.50,301.94 L264.80,299.76 L266.10,302.80 L267.40,301.27 L268.70,303.46 L269.00,302.20" stroke="#1a1aa8" stroke-width="1.7" fill="none" stroke-linejoin="round"/>
<path d="M90.00,304.20 L91.30,304.20 L92.60,304.20 L93.90,304.20 L95.20,304.20 L96.50,304.20 L97.80,303.87 L99.10,303.69 L100.40,303.85 L101.70,303.18 L103.00,302.66 L104.30,302.40 L105.60,302.14 L106.90,301.39 L108.20,301.11 L109.50,300.40 L110.80,299.78 L112.10,298.89 L113.40,298.59 L114.70,297.96 L116.00,297.11 L117.30,295.91 L118.60,295.27 L119.90,294.20 L121.20,293.55 L122.50,291.97 L123.80,291.03 L125.10,289.65 L126.40,287.94 L127.70,286.53 L129.00,284.80 L130.30,283.01 L131.60,280.91 L132.90,279.68 L134.20,277.44 L135.50,275.38 L136.80,272.92 L138.10,270.59 L139.40,268.52 L140.70,265.42 L142.00,262.70 L143.30,260.29 L144.60,257.23 L145.90,254.49 L147.20,252.49 L148.50,250.14 L149.80,247.76 L151.10,245.52 L152.40,242.83 L153.70,240.95 L155.00,238.53 L156.30,235.68 L157.60,233.28 L158.90,231.06 L160.20,228.92 L161.50,226.74 L162.80,224.59 L164.10,223.56 L165.40,222.35 L166.70,221.58 L168.00,221.97 L169.30,222.33 L170.60,223.38 L171.90,222.67 L173.20,221.37 L174.50,221.06 L175.80,223.20 L177.10,224.95 L178.40,226.17 L179.70,227.36 L181.00,228.11 L182.30,228.97 L183.60,230.26 L184.90,231.47 L186.20,232.50 L187.50,233.74 L188.80,235.30 L190.10,237.29 L191.40,239.56 L192.70,241.39 L194.00,243.46 L195.30,245.47 L196.60,247.58 L197.90,249.09 L199.20,251.50 L200.50,254.12 L201.80,256.40 L203.10,258.05 L204.40,260.47 L205.70,262.69 L207.00,264.39 L208.30,266.31 L209.60,267.39 L210.90,269.49 L212.20,271.24 L213.50,272.28 L214.80,274.20 L216.10,276.48 L217.40,277.11 L218.70,278.30 L220.00,278.71 L221.30,279.93 L222.60,280.99 L223.90,281.92 L225.20,281.21 L226.50,283.29 L227.80,283.40 L229.10,285.07 L230.40,285.03 L231.70,286.43 L233.00,288.12 L234.30,288.26 L235.60,288.21 L236.90,289.67 L238.20,290.28 L239.50,292.40 L240.80,291.30 L242.10,291.94 L243.40,293.47 L244.70,292.62 L246.00,294.56 L247.30,296.22 L248.60,295.55 L249.90,295.42 L251.20,296.62 L252.50,297.44 L253.80,296.82 L255.10,297.30 L256.40,297.63 L257.70,298.48 L259.00,299.18 L260.30,299.09 L261.60,299.24 L262.90,299.00 L264.20,300.97 L265.50,302.38 L266.80,301.86 L268.10,302.04 L269.00,302.00" stroke="#6e1a9a" stroke-width="1.7" fill="none" stroke-linejoin="round"/>
</svg></body></html>
